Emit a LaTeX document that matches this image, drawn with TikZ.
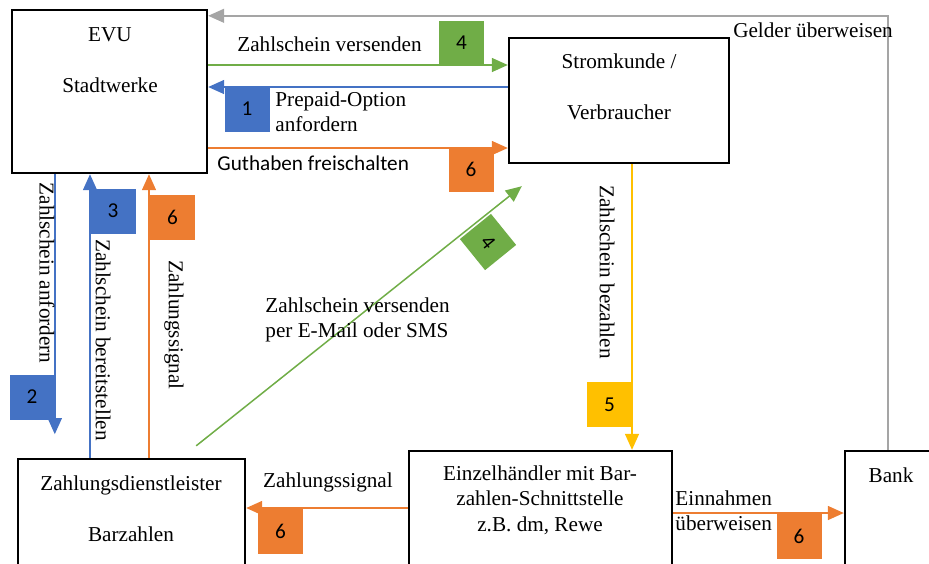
\documentclass[tikz,border=0pt]{standalone}
\usepackage{fontspec}
\setmainfont{Liberation Serif}
\newfontfamily\calibri{Carlito}
\definecolor{evublue}{HTML}{4472C4}
\definecolor{evuorange}{HTML}{ED7D31}
\definecolor{evugreen}{HTML}{70AD47}
\definecolor{evuyellow}{HTML}{FFC000}
\definecolor{evugray}{HTML}{A5A5A5}
\usetikzlibrary{calc, positioning, arrows.meta}

\begin{document}
\begin{tikzpicture}[
  x=0.5pt, y=-0.5pt,
  box/.style={draw, line width=1.2pt, inner sep=0pt},
  txt/.style={font=\fontsize{10.6}{12.7}\selectfont, inner sep=0pt, align=center},
  badge/.style={minimum size=22.5pt, inner sep=0pt,
                font=\calibri\fontsize{10.6}{12.7}\selectfont},
  flow/.style={line width=0.75pt, -{Triangle[length=8pt,width=7pt]}},
]
\clip (0,0) rectangle (929,563);

% Akteure
\node[box, minimum width=97.5pt, minimum height=81.5pt] (evu) at (109.5,91.5) {};
\node[box, minimum width=110pt, minimum height=62.5pt] (strom) at (619,100.5) {};
\node[box, minimum width=113.5pt, minimum height=58pt] (zds) at (131.5,517) {};
\node[box, minimum width=131.5pt, minimum height=62pt] (einz) at (540.5,513) {};
\node[box, minimum width=43pt, minimum height=62pt] (bank) at (888,513) {};

\node[txt] (tevu) at (110,60) {EVU\\[13pt]Stadtwerke};
\node[txt] (tstrom) at (619,87) {Stromkunde /\\[13pt]Verbraucher};
\node[txt] (tzds) at (131,509) {Zahlungsdienstleister\\[13pt]Barzahlen};
\node[txt] (teinz) at (540,500) {Einzelhändler mit Bar-\\zahlen-Schnittstelle\\z.B. dm, Rewe};
\node[txt] (tbank) at ($(bank.north)+(3,25)$) {Bank};

\coordinate (c2) at ($(evu.south west)+(44,260)$);
\coordinate (g0) at ($(zds.north east)+(-50,-12)$);
\coordinate (g1) at ($(strom.south west)+(14,22)$);

% Fluesse
\draw[flow, evugreen] (evu.east |- 0,65) -- (strom.west |- 0,65);
\draw[flow, evublue] (strom.west |- 0,87) -- (evu.east |- 0,87);
\draw[flow, evuorange] (evu.east |- 0,148) -- (strom.west |- 0,148);
\draw[flow, evugray] (bank.north) |- ([yshift=-3.5pt]evu.north east);
\draw[flow, evublue] (evu.south -| c2) -- (c2);
\draw[flow, evublue] (zds.north -| 90,0) -- (evu.south -| 90,0);
\draw[flow, evuorange] (zds.north -| 149,0) -- (evu.south -| 149,0);
\draw[flow, evugreen] (g0) -- (g1);
\draw[flow, evuyellow] (strom.south -| 632,0) -- (einz.north -| 632,0);
\draw[flow, evuorange] (einz.west |- 0,508) -- (zds.east |- 0,508);
\draw[flow, evuorange] (einz.east |- 0,513) -- (bank.west |- 0,513);

% Beschriftungen
\node[txt] (l4a) at (329.5,44) {Zahlschein versenden};
\node[txt, align=left, anchor=west] (l1) at (275,112) {Prepaid-Option\\anfordern};
\node[txt, font=\calibri\fontsize{10.6}{12.7}\selectfont, anchor=west] (l6a) at (217,163) {Guthaben freischalten};
\node[txt] (lgeld) at (813,30) {Gelder überweisen};
\node[txt, rotate=-90] (l2) at (47,273) {Zahlschein anfordern};
\node[txt, rotate=-90] (l3) at (103,340) {Zahlschein bereitstellen};
\node[txt, rotate=-90] (l6b) at (174,325) {Zahlungssignal};
\node[txt, align=left, anchor=west] (l4b) at (265,320) {Zahlschein versenden\\per E-Mail oder SMS};
\node[txt, rotate=-90] (l5) at (607,272) {Zahlschein bezahlen};
\node[txt] (l6c) at (328,482) {Zahlungssignal};
\node[txt, align=left, anchor=west] (l6d) at (675,511) {Einnahmen\\überweisen};

% Schritte
\node[badge, fill=evublue] (b1) at (247,109) {1};
\node[badge, fill=evublue] (b2) at (32,397) {2};
\node[badge, fill=evublue] (b3) at (113,211) {3};
\node[badge, fill=evugreen] (b4a) at (461.5,43) {4};
\node[badge, fill=evugreen, minimum size=20pt, rotate=-51] (b4b) at (488,242) {4};
\node[badge, fill=evuyellow] (b5) at (609.5,404.5) {5};
\node[badge, fill=evuorange] (b6a) at (471,169.5) {6};
\node[badge, fill=evuorange] (b6b) at (172.5,217.5) {6};
\node[badge, fill=evuorange] (b6c) at (280.5,531) {6};
\node[badge, fill=evuorange] (b6d) at (799,536) {6};
\end{tikzpicture}
\end{document}
